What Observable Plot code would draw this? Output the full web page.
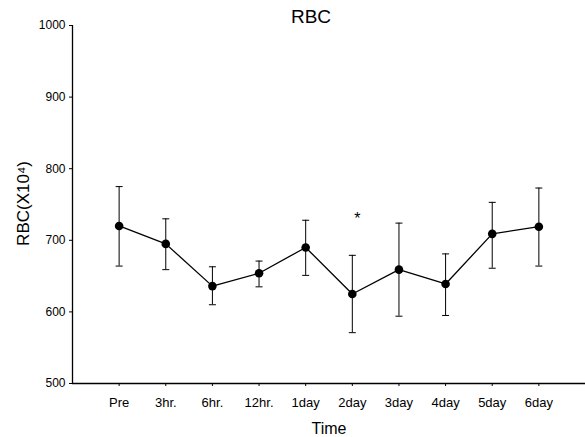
<!DOCTYPE html>
<html><head><meta charset="utf-8">
<script src="https://cdn.jsdelivr.net/npm/d3@7"></script>
<script src="https://cdn.jsdelivr.net/npm/@observablehq/plot@0.6"></script>
<style>body{margin:0;background:#fff;font-family:"Liberation Sans",Arial,sans-serif}</style>
</head><body><div id="chart"></div>
<script>
const categories = ["Pre","3hr.","6hr.","12hr.","1day","2day","3day","4day","5day","6day"];
const means = [720, 695, 636, 654, 690, 625, 659, 639, 709, 719];
const upper = [775, 730, 663, 671, 728, 679, 724, 681, 753, 773];
const lower = [664, 659, 610, 635, 651, 571, 594, 595, 661, 664];
const yTicks = [500, 600, 700, 800, 900, 1000];
const starIndex = 5, starValue = 733;

const data = categories.map((c, i) => ({i: i + 1, c, m: means[i], hi: upper[i], lo: lower[i]}));
const cap = {draw(ctx) { ctx.moveTo(-3.5, 0); ctx.lineTo(3.5, 0); }};

const chart = Plot.plot({
  width: 585, height: 437,
  marginLeft: 72, marginRight: 0, marginTop: 25, marginBottom: 54,
  style: {fontFamily: "Liberation Sans, Arial, sans-serif", fontSize: "12px", color: "#000", background: "#fff"},
  x: {domain: [0, 11]},
  y: {domain: [500, 1000]},
  marks: [
    Plot.axisY({ticks: yTicks, tickFormat: d => String(d), tickSize: 3, tickPadding: 4, label: null, fontSize: 12}),
    Plot.axisX({ticks: data.map(d => d.i), tickFormat: i => categories[i - 1], tickSize: 3, tickPadding: 11, label: null, fontSize: 13}),
    Plot.ruleY([500], {stroke: "#000", strokeWidth: 1.3}),
    Plot.ruleX([0], {stroke: "#000", strokeWidth: 1.3}),
    Plot.ruleX(data, {x: "i", y1: "lo", y2: "hi", stroke: "#000", strokeWidth: 1}),
    Plot.dot(data, {x: "i", y: "hi", symbol: cap, stroke: "#000", strokeWidth: 1}),
    Plot.dot(data, {x: "i", y: "lo", symbol: cap, stroke: "#000", strokeWidth: 1}),
    Plot.line(data, {x: "i", y: "m", stroke: "#000", strokeWidth: 1.3}),
    Plot.dot(data, {x: "i", y: "m", r: 4.3, fill: "#000"}),
    Plot.text(["*"], {x: starIndex + 1, y: starValue, fontSize: 16, dx: 5, dy: 2}),
    Plot.text(["RBC"], {frameAnchor: "top", dx: -18, dy: -16, fontSize: 19}),
    Plot.text(["Time"], {frameAnchor: "bottom", dy: 50, fontSize: 16}),
    Plot.text(["RBC(X10\u2074)"], {frameAnchor: "left", textAnchor: "middle", dx: -49, dy: -1, rotate: -90, fontSize: 17})
  ]
});
document.getElementById("chart").append(chart);
</script></body></html>
